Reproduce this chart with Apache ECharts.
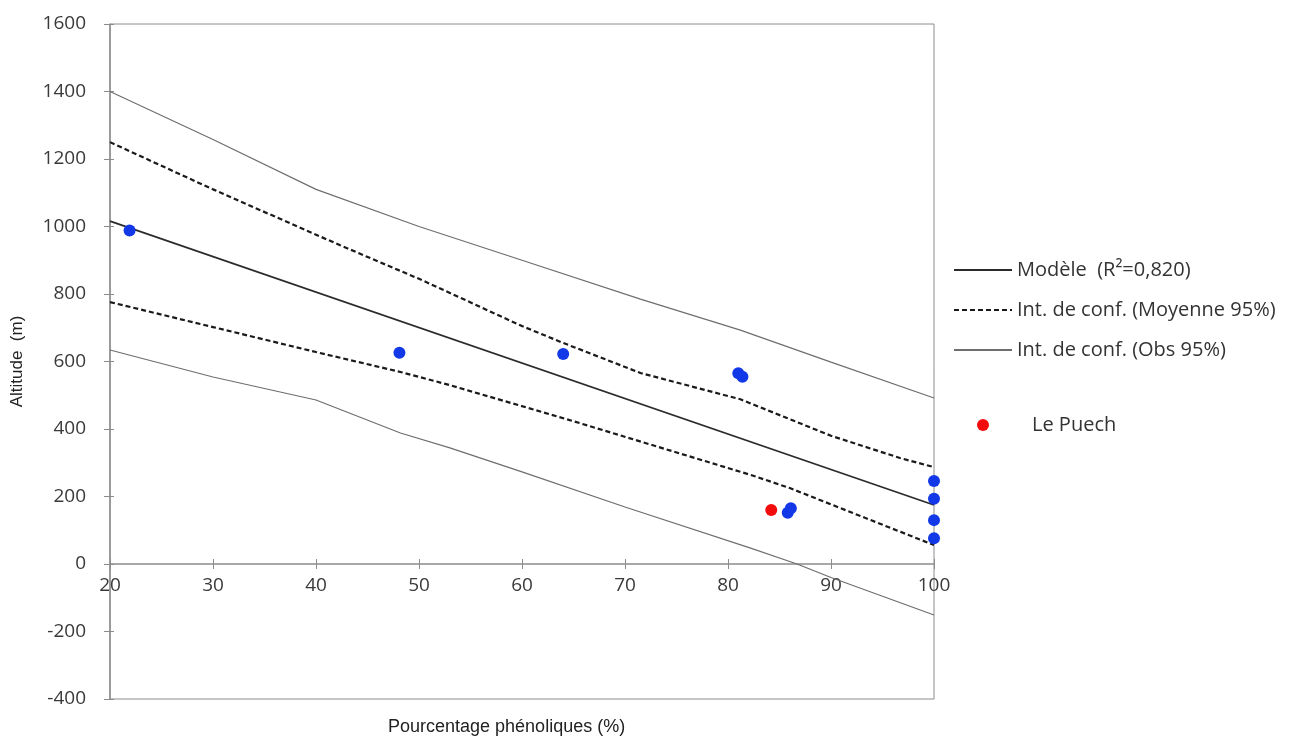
<!DOCTYPE html>
<html>
<head>
<meta charset="utf-8">
<script src="https://cdn.jsdelivr.net/npm/echarts@6/dist/echarts.min.js"></script>
<style>html,body{margin:0;padding:0;background:#fff}#c{width:1290px;height:740px}</style>
</head>
<body>
<div id="c"></div>
<script>
// Data
var modelLine = [[20, 1016], [100, 175]];
var meanUpper = [[20, 1250], [30, 1110], [42.3, 945], [50, 845], [60, 705], [64, 655], [71.5, 566], [81.2, 488], [90, 380], [96.7, 314], [100, 287]];
var meanLower = [[20, 776], [30, 702], [40, 628], [48.2, 569], [53, 530], [65, 423], [82.2, 264], [86, 225], [100, 56]];
var obsUpper = [[20, 1400], [30, 1258], [40, 1110], [50, 1000], [60, 900], [71.5, 785], [81.2, 693], [90, 598], [100, 492]];
var obsLower = [[20, 634], [30, 554], [40, 486], [48.2, 388], [53, 344], [60, 273], [70, 169], [82.2, 47], [86.7, 0], [90, -40], [100, -151]];
var sites = [[21.9, 988], [48.1, 626], [64.0, 622], [81.0, 565], [81.4, 555], [85.8, 152], [86.1, 165], [100, 246], [100, 193], [100, 130], [100, 76]];
var lePuech = [[84.2, 160]];

var xTicks = {min: 20, max: 100, interval: 10};
var yTicks = {min: -400, max: 1600, interval: 200};

var nameModel = 'Modèle  (R²=0,820)';
var nameMean = 'Int. de conf. (Moyenne 95%)';
var nameObs = 'Int. de conf. (Obs 95%)';
var namePuech = 'Le Puech';

var tickFont = {fontFamily: 'Open Sans', fontSize: 19, color: '#3a3a3a'};
var axisCol = '#8c8c8c';
var plainNum = function (v) { return String(v); };
// grid geometry (pixels)
var gridTop = 24, gridBottom = 41, plotH = 740 - gridTop - gridBottom;
// x axis drawn where y = 0: pixel offset from the bottom edge of the plot
var zeroOffset = -Math.round(plotH * (0 - yTicks.min) / (yTicks.max - yTicks.min));

var chart = echarts.init(document.getElementById('c'), null, {renderer: 'canvas'});
chart.setOption({
  backgroundColor: '#fff',
  animation: false,
  title: {
    text: 'Pourcentage phénoliques (%)',
    left: 383, top: 713,
    textStyle: {fontFamily: 'Liberation Sans', fontSize: 18, fontWeight: 'normal', color: '#222'}
  },
  grid: {left: 110, right: 356, top: gridTop, bottom: gridBottom, show: true, borderColor: axisCol, borderWidth: 1, backgroundColor: 'transparent'},
  legend: [{
    data: [nameModel, nameMean, nameObs],
    orient: 'vertical', left: 948, top: 253,
    itemWidth: 58, itemHeight: 14, itemGap: 16,
    itemStyle: {opacity: 0},
    textStyle: {fontFamily: 'Open Sans', fontSize: 20, color: '#333', lineHeight: 24},
    selectedMode: false
  }, {
    data: [{name: namePuech, icon: 'circle'}],
    orient: 'vertical', left: 972, top: 408,
    itemWidth: 12, itemHeight: 12,
    formatter: function (n) { return '{pad|}' + n; },
    textStyle: {fontFamily: 'Open Sans', fontSize: 20, color: '#333', lineHeight: 24,
      rich: {pad: {width: 38}}},
    selectedMode: false
  }],
  xAxis: [{
    type: 'value', min: xTicks.min, max: xTicks.max, interval: xTicks.interval,
    position: 'bottom', offset: zeroOffset,
    axisLine: {onZero: false, lineStyle: {color: axisCol, width: 1.5}},
    axisTick: {show: true, inside: false, length: 5, lineStyle: {color: axisCol}},
    axisLabel: Object.assign({margin: 12, formatter: plainNum}, tickFont),
    splitLine: {show: false}
  }, {
    type: 'value', min: xTicks.min, max: xTicks.max, interval: xTicks.interval,
    position: 'bottom', offset: zeroOffset,
    axisLine: {show: false, onZero: false},
    axisTick: {show: true, inside: true, length: 5, lineStyle: {color: axisCol}},
    axisLabel: {show: false},
    splitLine: {show: false}
  }],
  yAxis: [{
    type: 'value', min: yTicks.min, max: yTicks.max, interval: yTicks.interval,
    name: 'Altitude  (m)', nameLocation: 'middle', nameGap: 84,
    nameTextStyle: {fontFamily: 'Liberation Sans', fontSize: 17, color: '#222'},
    axisLine: {show: true, onZero: false, lineStyle: {color: axisCol, width: 1.5}},
    axisTick: {show: true, inside: false, length: 6, lineStyle: {color: axisCol}},
    axisLabel: Object.assign({margin: 24, formatter: plainNum}, tickFont),
    splitLine: {show: false}
  }, {
    type: 'value', min: yTicks.min, max: yTicks.max, interval: yTicks.interval,
    position: 'left', offset: 0,
    axisLine: {show: false, onZero: false},
    axisTick: {show: true, inside: true, length: 4, lineStyle: {color: axisCol}},
    axisLabel: {show: false},
    splitLine: {show: false}
  }],
  series: [
    {name: nameObs, type: 'line', data: obsUpper, symbol: 'none', z: 2,
     lineStyle: {color: '#6e6e6e', width: 1.2}, itemStyle: {color: '#6e6e6e'}},
    {name: nameObs, type: 'line', data: obsLower, symbol: 'none', z: 2,
     lineStyle: {color: '#6e6e6e', width: 1.2}, itemStyle: {color: '#6e6e6e'}},
    {name: nameMean, type: 'line', data: meanUpper, symbol: 'none', z: 3,
     lineStyle: {color: '#1a1a1a', width: 2.2, type: [5, 3]}, itemStyle: {color: '#1a1a1a'}},
    {name: nameMean, type: 'line', data: meanLower, symbol: 'none', z: 3,
     lineStyle: {color: '#1a1a1a', width: 2.2, type: [5, 3]}, itemStyle: {color: '#1a1a1a'}},
    {name: nameModel, type: 'line', data: modelLine, symbol: 'none', z: 3,
     lineStyle: {color: '#2b2b2b', width: 1.7}, itemStyle: {color: '#2b2b2b'}},
    {name: 'Sites', type: 'scatter', data: sites, symbol: 'circle', symbolSize: 12, z: 5,
     itemStyle: {color: '#1238e8', opacity: 1}},
    {name: namePuech, type: 'scatter', data: lePuech, symbol: 'circle', symbolSize: 12, z: 5,
     itemStyle: {color: '#f20c0c', opacity: 1}}
  ]
});
</script>
</body>
</html>
